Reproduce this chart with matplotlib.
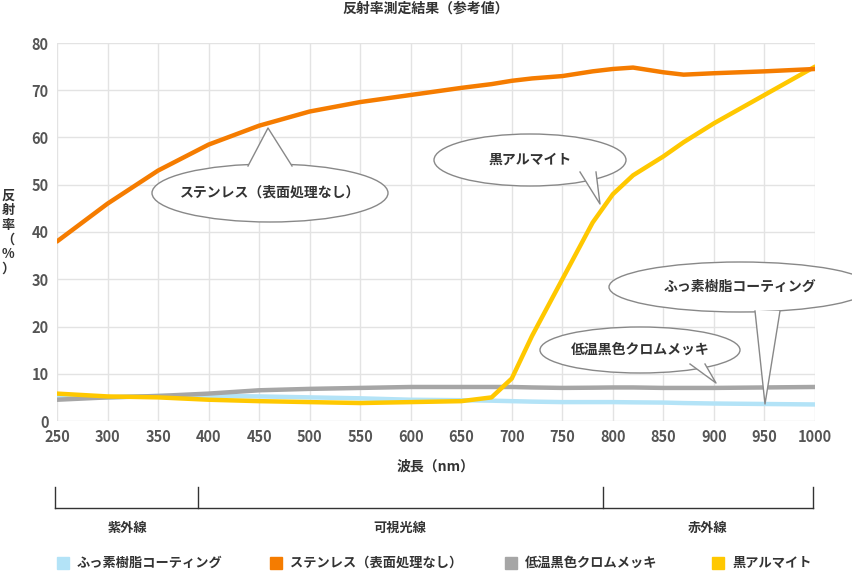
import matplotlib
matplotlib.use("Agg")
import matplotlib.pyplot as plt
from matplotlib.patches import Ellipse, Polygon
import numpy as np

plt.rcParams["font.family"] = "Noto Sans CJK JP"

wl = [250,300,350,400,450,500,550,600,650,680,700,720,750,780,800,820,850,870,900,950,1000]
stainless = [38,46,53,58.5,62.5,65.5,67.5,69,70.5,71.3,72,72.5,73,74,74.5,74.8,73.8,73.3,73.6,74,74.5]
alumite = [5.8,5.2,5.0,4.5,4.2,4.0,3.8,4.0,4.2,5.0,9,18,30,42,48,52,56,59,63,69,75]
chrome = [4.5,5.0,5.3,5.8,6.5,6.8,7.0,7.2,7.2,7.2,7.2,7.1,7.0,7.05,7.1,7.1,7.0,7.0,7.0,7.1,7.2]
fluoro = [5.2,5.0,5.3,5.3,5.2,5.0,4.8,4.5,4.4,4.3,4.2,4.1,4.0,4.0,4.0,3.95,3.9,3.8,3.7,3.6,3.5]

names = ["ふっ素樹脂コーティング","ステンレス（表面処理なし）","低温黒色クロムメッキ","黒アルマイト"]
colors = ["#B3E3F7","#F57C00","#A6A6A6","#FFC800"]
xticks = list(range(250,1001,50))
yticks = list(range(0,81,10))
regions = ["紫外線","可視光線","赤外線"]

W,H = 853,573
fig = plt.figure(figsize=(W/100,H/100), dpi=100)
ax = fig.add_axes([57/W,(H-421)/H,(815-57)/W,(421-43)/H])
for y,c in zip([fluoro,chrome,alumite,stainless],[colors[0],colors[2],colors[3],colors[1]]):
    ax.plot(wl,y,color=c,lw=3.2,solid_capstyle="round",zorder=3)
ax.set_xlim(250,1000); ax.set_ylim(0,80)
ax.set_xticks(xticks); ax.set_yticks(yticks)
ax.grid(True,color="#E3E3E3",lw=1)
for s in ax.spines.values(): s.set_visible(False)
ax.tick_params(length=0,labelsize=10.5,labelcolor="#555555",pad=6)
for l in ax.get_xticklabels()+ax.get_yticklabels(): l.set_fontweight("bold")

o = fig.add_axes([0,0,1,1]); o.set_xlim(0,W); o.set_ylim(H,0); o.axis("off")
o.text(426,9,"反射率測定結果（参考値）",ha="center",va="center",fontsize=10,fontweight="bold",color="#333")
o.text(8,232,"反\n射\n率\n（\n%\n）",ha="center",va="center",fontsize=9.5,fontweight="bold",color="#333",linespacing=1.05)
o.text(436,467,"波長（nm）",ha="center",va="center",fontsize=10,fontweight="bold",color="#333")
o.plot([55,813],[508,508],color="#333",lw=1)
for x in [55,198,603,813]:
    o.plot([x,x],[487,508],color="#333",lw=1)
for x,t in zip([127,400,708],regions):
    o.text(x,528,t,ha="center",va="center",fontsize=9.5,fontweight="bold",color="#333")
lx = [57,270,505,712]
for x,n,c in zip(lx,names,colors):
    o.add_patch(Polygon([[x,557],[x+12,557],[x+12,569],[x,569]],color=c))
    o.text(x+20,563,n,ha="left",va="center",fontsize=9.5,fontweight="bold",color="#333")

def callout(cx,cy,w,h,b1,b2,tip,text):
    o.add_patch(Ellipse((cx,cy),w,h,facecolor="white",edgecolor="#888",lw=1,zorder=5))
    o.add_patch(Polygon([b1,tip,b2],closed=True,facecolor="white",edgecolor="none",zorder=6))
    o.plot([b1[0],tip[0],b2[0]],[b1[1],tip[1],b2[1]],color="#888",lw=1,zorder=7)
    o.text(cx,cy,text,ha="center",va="center",fontsize=10,fontweight="bold",color="#333",zorder=8)

callout(270,193,236,58,(248,166),(292,166),(268,128),"ステンレス（表面処理なし）")
callout(530,160,192,52,(580,172),(596,172),(600,204),"黒アルマイト")
callout(740,287,262,50,(755,311),(780,311),(765,404),"ふっ素樹脂コーティング")
callout(640,350,200,46,(690,364),(705,364),(716,383),"低温黒色クロムメッキ")

fig.savefig("out.png",dpi=100)
